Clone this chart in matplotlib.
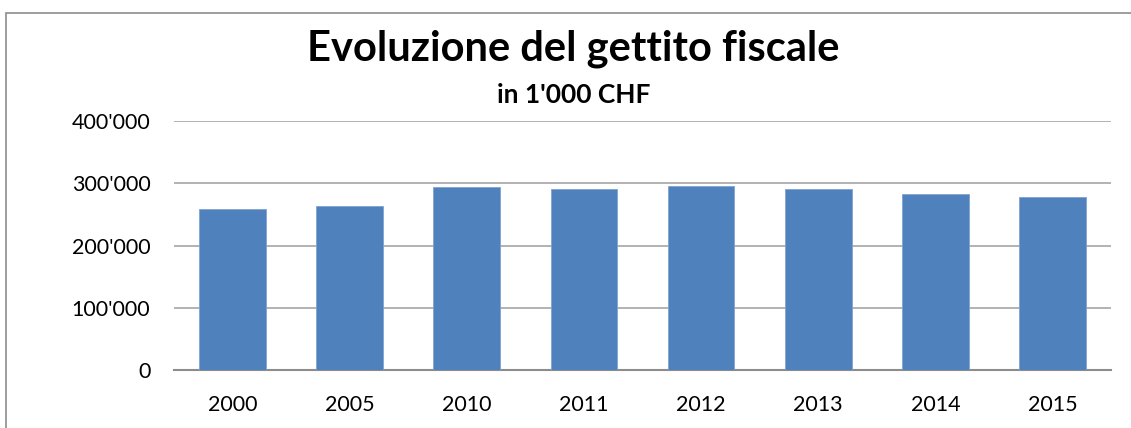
import matplotlib
matplotlib.use("Agg")
import matplotlib.pyplot as plt
import matplotlib.patches as mpatches
from matplotlib.ticker import FuncFormatter

years = ["2000", "2005", "2010", "2011", "2012", "2013", "2014", "2015"]
gettito = [259300, 263700, 294300, 291000, 295400, 290600, 283000, 277700]
y_ticks = [0, 100000, 200000, 300000, 400000]

BAR_BLUE = "#4f81bd"
GRID_GREY = "#a6a6a6"
FONT = "Lato"

W, H = 1131, 428
fig = plt.figure(figsize=(W / 100, H / 100), dpi=100, facecolor="white")

# outer chart frame (left and top edges visible, rest cropped)
fig.patches.append(mpatches.Rectangle(
    (5.5 / W, -0.1), 1.2, 1 - 13 / H + 0.1, transform=fig.transFigure,
    facecolor="none", edgecolor="#8c8c8c", linewidth=1.2, zorder=0))

ax = fig.add_axes([174 / W, 1 - 369.7 / H, (1111 - 174) / W, (369.7 - 121.3) / H])
x = range(len(years))
ax.bar(x, gettito, width=0.57, color=BAR_BLUE, edgecolor="#7fa3cf",
       linewidth=0.6, zorder=3)

ax.set_xlim(-0.5, len(years) - 0.5)
ax.set_ylim(0, 400000)
ax.set_yticks(y_ticks)
ax.yaxis.set_major_formatter(FuncFormatter(
    lambda v, _: "0" if v == 0 else f"{int(v):,}".replace(",", "'")))
ax.set_xticks(list(x))
ax.set_xticklabels(years)

ax.grid(axis="y", color=GRID_GREY, linewidth=1.2, zorder=0)
for side in ("left", "right", "top"):
    ax.spines[side].set_visible(False)
ax.spines["bottom"].set_color("#8c8c8c")
ax.spines["bottom"].set_linewidth(1.5)
ax.tick_params(length=0, labelsize=15.5, colors="black")
ax.tick_params(axis="x", pad=18)
ax.tick_params(axis="y", pad=17)
for lbl in ax.get_xticklabels() + ax.get_yticklabels():
    lbl.set_fontfamily(FONT)

fig.text(573.5 / W, 1 - 61 / H, "Evoluzione del gettito fiscale", ha="center",
         va="baseline", fontsize=30, fontweight="bold", family=FONT)
fig.text(574 / W, 1 - 103.3 / H, "in 1'000 CHF", ha="center", va="baseline",
         fontsize=19, fontweight="bold", family=FONT)

fig.savefig("out.png", dpi=100, facecolor="white")
